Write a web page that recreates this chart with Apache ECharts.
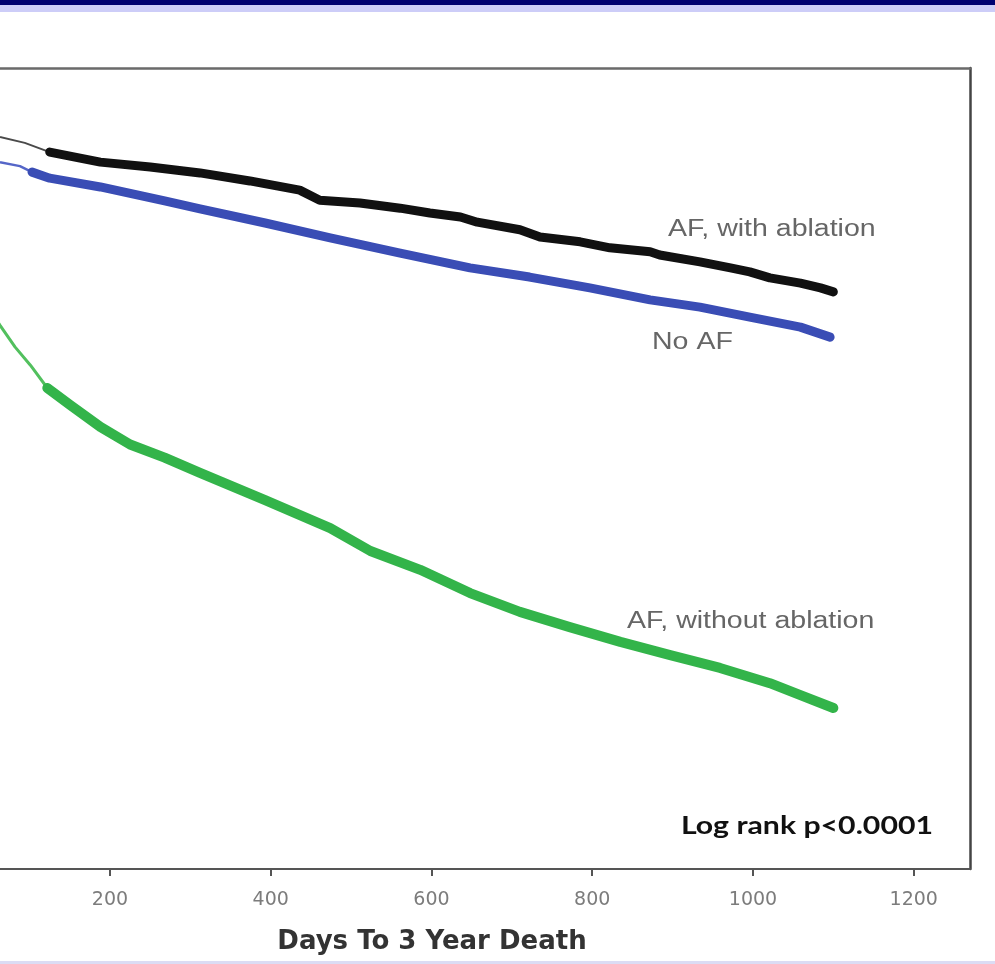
<!DOCTYPE html>
<html>
<head>
<meta charset="utf-8">
<script src="https://cdn.jsdelivr.net/npm/echarts@6/dist/echarts.min.js"></script>
<style>
html,body{margin:0;padding:0;background:#fff;overflow:hidden;}
#chart{width:995px;height:964px;}
</style>
</head>
<body>
<div id="chart"></div>
<script>
// ---- data (days, survival) ----
const xTickValues = [200, 400, 600, 800, 1000, 1200];
const xAxisTitle = 'Days To 3 Year Death';
const seriesNames = ['AF, with ablation', 'No AF', 'AF, without ablation'];
const pValueText = 'Log rank p<0.0001';

// AF, with ablation (black)
const withAblEarlyDays = [0, 63, 94, 125];
const withAblEarlySurv = [0.9865, 0.9828, 0.9813, 0.9790];
const withAblDays = [125, 188, 250, 312, 374, 436, 461, 511, 561, 598, 636, 657, 710, 735, 785, 822, 872, 884, 934, 972, 996, 1021, 1059, 1084, 1100];
const withAblSurv = [0.9790, 0.9765, 0.9753, 0.9738, 0.9718, 0.9695, 0.9670, 0.9663, 0.9650, 0.9638, 0.9628, 0.9615, 0.9596, 0.9578, 0.9566, 0.9551, 0.9541, 0.9533, 0.9516, 0.9501, 0.9491, 0.9476, 0.9463, 0.9451, 0.9441];

// No AF (blue)
const noAfEarlyDays = [0, 63, 88, 103];
const noAfEarlySurv = [0.9795, 0.9765, 0.9755, 0.9740];
const noAfDays = [103, 125, 188, 268, 312, 393, 474, 561, 648, 722, 797, 872, 934, 996, 1059, 1096];
const noAfSurv = [0.9740, 0.9725, 0.9703, 0.9668, 0.9648, 0.9613, 0.9576, 0.9538, 0.9501, 0.9478, 0.9451, 0.9421, 0.9403, 0.9378, 0.9353, 0.9328];

// AF, without ablation (green)
const withoutAblEarlyDays = [0, 32, 63, 82, 101, 122];
const withoutAblEarlySurv = [0.9563, 0.9458, 0.9358, 0.9303, 0.9258, 0.9201];
const withoutAblDays = [122, 150, 188, 225, 268, 312, 393, 474, 524, 586, 648, 710, 772, 835, 897, 959, 1021, 1059, 1100];
const withoutAblSurv = [0.9201, 0.9159, 0.9104, 0.9060, 0.9027, 0.8989, 0.8921, 0.8851, 0.8794, 0.8747, 0.8689, 0.8642, 0.8604, 0.8567, 0.8534, 0.8502, 0.8464, 0.8434, 0.8402];

// visible day range of the cropped frame
const xVisibleMin = 63.15;
const xVisibleMax = 1270;

function pairs(d, v) { return d.map((x, i) => [x, v[i]]); }

function lineSeries(name, d, v, color, width) {
  return {
    name: name, type: 'line', showSymbol: false, symbol: 'none', smooth: false,
    data: pairs(d, v), silent: true, animation: false, clip: true,
    lineStyle: { color: color, width: width, cap: 'round', join: 'round' }
  };
}

const chart = echarts.init(document.getElementById('chart'), null, { renderer: 'canvas' });

const option = {
  animation: false,
  backgroundColor: '#ffffff',
  grid: {
    left: 0, right: 25, top: 68, bottom: 95,
    show: false
  },
  xAxis: [{
    type: 'value', min: xVisibleMin, max: xVisibleMax, position: 'bottom',
    name: xAxisTitle, nameLocation: 'middle', nameGap: 60,
    nameTextStyle: { fontFamily: 'DejaVu Sans', fontWeight: 'bold', fontSize: 26, color: '#333', padding: [0, 106, 0, 0] },
    axisLine: { show: true, onZero: false, lineStyle: { color: '#555', width: 2 } },
    axisTick: { show: true, length: 7, lineStyle: { color: '#555', width: 2 }, customValues: xTickValues },
    axisLabel: { customValues: xTickValues, margin: 22, fontFamily: 'DejaVu Sans', fontSize: 19, color: '#7c7c7c',
      formatter: function (v) { return String(v); } },
    splitLine: { show: false }
  }, {
    type: 'value', min: xVisibleMin, max: xVisibleMax, position: 'top',
    axisLine: { show: true, onZero: false, lineStyle: { color: '#6a6a6a', width: 2.5 } },
    axisTick: { show: false }, axisLabel: { show: false }, splitLine: { show: false }
  }],
  yAxis: {
    type: 'value', min: 0.8, max: 1.0, position: 'right',
    axisLine: { show: true, onZero: false, lineStyle: { color: '#444', width: 2.5 } },
    axisTick: { show: false }, axisLabel: { show: false },
    splitLine: { show: false }
  },
  series: [
    lineSeries(seriesNames[0], withAblEarlyDays, withAblEarlySurv, '#4a4a4a', 2),
    lineSeries(seriesNames[0], withAblDays, withAblSurv, '#111111', 9),
    lineSeries(seriesNames[1], noAfEarlyDays, noAfEarlySurv, '#5566c8', 2.5),
    lineSeries(seriesNames[1], noAfDays, noAfSurv, '#3a4db5', 9),
    lineSeries(seriesNames[2], withoutAblEarlyDays, withoutAblEarlySurv, '#52c05e', 3),
    lineSeries(seriesNames[2], withoutAblDays, withoutAblSurv, '#33b44a', 10)
  ],
  graphic: [
    { type: 'rect', shape: { x: 0, y: 0, width: 995, height: 5 }, style: { fill: '#000070' }, silent: true },
    { type: 'rect', shape: { x: 0, y: 5, width: 995, height: 7 }, style: { fill: '#cdcdf8' }, silent: true },
    { type: 'rect', shape: { x: 0, y: 961, width: 995, height: 3 }, style: { fill: '#dcdcf4' }, silent: true },
    { type: 'text', x: 668, y: 230, scaleX: 1.24, silent: true,
      style: { text: seriesNames[0], font: '23px "Liberation Sans", Arial, sans-serif', fill: '#666', textAlign: 'left', textVerticalAlign: 'middle' } },
    { type: 'text', x: 652, y: 343, scaleX: 1.24, silent: true,
      style: { text: seriesNames[1], font: '23px "Liberation Sans", Arial, sans-serif', fill: '#666', textAlign: 'left', textVerticalAlign: 'middle' } },
    { type: 'text', x: 627, y: 622, scaleX: 1.24, silent: true,
      style: { text: seriesNames[2], font: '23px "Liberation Sans", Arial, sans-serif', fill: '#666', textAlign: 'left', textVerticalAlign: 'middle' } },
    { type: 'text', x: 933, y: 826, scaleX: 1.26, silent: true,
      style: { text: pValueText, font: 'bold 24px Lato, "Open Sans", sans-serif', fill: '#111', textAlign: 'right', textVerticalAlign: 'middle' } }
  ]
};
chart.setOption(option);
</script>
</body>
</html>
